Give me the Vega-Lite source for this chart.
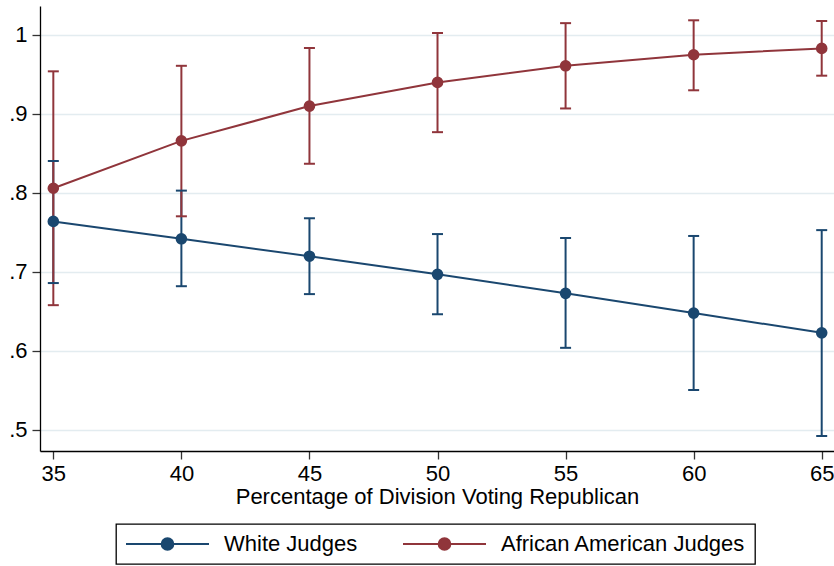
{
  "$schema": "https://vega.github.io/schema/vega-lite/v6.json",
  "width": 794,
  "height": 445,
  "autosize": {"type": "none"},
  "padding": {"left": 40, "top": 6, "right": 0, "bottom": 115},
  "background": "white",
  "config": {
    "view": {"stroke": null},
    "font": "Liberation Sans",
    "legend": {"strokeColor": "#000000", "strokeWidth": 1.3},
    "axis": {
      "domainColor": "#000000",
      "domainWidth": 1.3,
      "tickColor": "#333333",
      "tickWidth": 1.3,
      "tickSize": 8,
      "labelColor": "#000000",
      "titleColor": "#000000",
      "labelFont": "Liberation Sans",
      "titleFont": "Liberation Sans",
      "labelFontSize": 22,
      "titleFontWeight": "normal"
    }
  },
  "data": {
    "values": [
      {"pct": 35, "group": "White Judges", "est": 0.764, "lo": 0.686, "hi": 0.8405},
      {"pct": 40, "group": "White Judges", "est": 0.742, "lo": 0.682, "hi": 0.803},
      {"pct": 45, "group": "White Judges", "est": 0.720, "lo": 0.672, "hi": 0.768},
      {"pct": 50, "group": "White Judges", "est": 0.697, "lo": 0.6465, "hi": 0.748},
      {"pct": 55, "group": "White Judges", "est": 0.673, "lo": 0.604, "hi": 0.743},
      {"pct": 60, "group": "White Judges", "est": 0.648, "lo": 0.5506, "hi": 0.7456},
      {"pct": 65, "group": "White Judges", "est": 0.623, "lo": 0.4924, "hi": 0.753},
      {"pct": 35, "group": "African American Judges", "est": 0.806, "lo": 0.658, "hi": 0.954},
      {"pct": 40, "group": "African American Judges", "est": 0.866, "lo": 0.7705, "hi": 0.961},
      {"pct": 45, "group": "African American Judges", "est": 0.910, "lo": 0.837, "hi": 0.9835},
      {"pct": 50, "group": "African American Judges", "est": 0.940, "lo": 0.877, "hi": 1.0025},
      {"pct": 55, "group": "African American Judges", "est": 0.961, "lo": 0.907, "hi": 1.015},
      {"pct": 60, "group": "African American Judges", "est": 0.975, "lo": 0.930, "hi": 1.0186},
      {"pct": 65, "group": "African American Judges", "est": 0.983, "lo": 0.9485, "hi": 1.0177}
    ]
  },
  "encoding": {
    "x": {
      "field": "pct",
      "type": "quantitative",
      "scale": {"domain": [34.48, 65.48], "nice": false, "zero": false},
      "axis": {
        "values": [35, 40, 45, 50, 55, 60, 65],
        "grid": false,
        "labelFontSize": 22,
        "labelPadding": 4,
        "title": "Percentage of Division Voting Republican",
        "titleFontSize": 22,
        "titlePadding": 2
      }
    },
    "color": {
      "field": "group",
      "type": "nominal",
      "scale": {"domain": ["White Judges", "African American Judges"], "range": ["#1a476f", "#90353b"]},
      "legend": {
        "title": null,
        "orient": "none",
        "legendX": 76,
        "legendY": 518,
        "direction": "horizontal",
        "padding": 9,
        "clipHeight": 22,
        "symbolType": "M-1,0H1M-0.141,0A0.141,0.141,0,1,1,0.141,0A0.141,0.141,0,1,1,-0.141,0Z",
        "symbolSize": 6889,
        "symbolStrokeWidth": 2,
        "labelFontSize": 22,
        "labelFont": "Liberation Sans",
        "labelColor": "#000000",
        "labelLimit": 400,
        "labelOffset": 14,
        "columnPadding": 44,
        "encode": {
          "symbols": {
            "update": {
              "fill": {"scale": "color", "field": "value"},
              "stroke": {"scale": "color", "field": "value"},
              "strokeWidth": {"value": 2},
              "opacity": {"value": 1}
            }
          }
        }
      }
    }
  },
  "layer": [
    {
      "mark": {"type": "rule", "strokeWidth": 2},
      "encoding": {
        "y": {
          "field": "lo",
          "type": "quantitative",
          "scale": {"domain": [0.4734, 1.0367], "nice": false, "zero": false},
          "axis": {
            "values": [0.5, 0.6, 0.7, 0.8, 0.9, 1],
            "labelExpr": "datum.value == 1 ? '1' : '.' + format(datum.value * 10, '.0f')",
            "grid": true,
            "gridColor": "#e3ecf0",
            "gridWidth": 1.3,
            "labelFontSize": 22,
            "labelPadding": 5,
            "title": null
          }
        },
        "y2": {"field": "hi"}
      }
    },
    {
      "mark": {"type": "tick", "orient": "horizontal", "size": 11, "thickness": 2, "opacity": 1},
      "encoding": {"y": {"field": "lo", "type": "quantitative"}}
    },
    {
      "mark": {"type": "tick", "orient": "horizontal", "size": 11, "thickness": 2, "opacity": 1},
      "encoding": {"y": {"field": "hi", "type": "quantitative"}}
    },
    {
      "mark": {"type": "line", "strokeWidth": 2},
      "encoding": {"y": {"field": "est", "type": "quantitative"}}
    },
    {
      "mark": {"type": "point", "filled": true, "shape": "circle", "size": 135, "opacity": 1},
      "encoding": {"y": {"field": "est", "type": "quantitative"}}
    }
  ]
}
